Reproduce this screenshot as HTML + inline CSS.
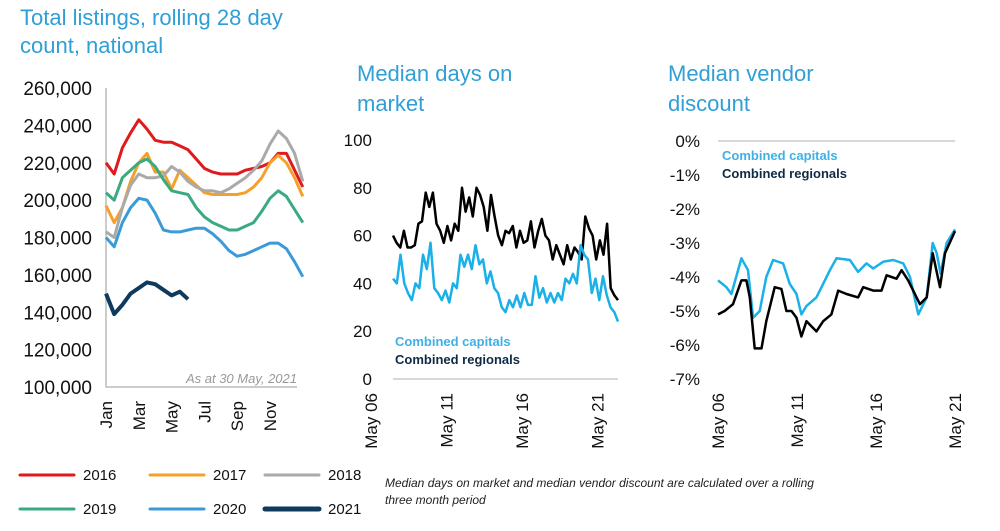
<!DOCTYPE html>
<html><head><meta charset="utf-8"><style>
body{margin:0;background:#fff;width:1000px;height:531px;overflow:hidden;font-family:"Liberation Sans",sans-serif}
svg{position:absolute;left:0;top:0}
</style></head><body>
<svg id="s" width="1000" height="531" viewBox="0 0 1000 531">
<text x="20" y="25" font-size="22" fill="#2f9fd6">Total listings, rolling 28 day</text>
<text x="20" y="53" font-size="22" fill="#2f9fd6">count, national</text>
<text x="357" y="81" font-size="22" fill="#2f9fd6">Median days on</text>
<text x="357" y="111" font-size="22" fill="#2f9fd6">market</text>
<text x="668" y="81" font-size="22" fill="#2f9fd6">Median vendor</text>
<text x="668" y="111" font-size="22" fill="#2f9fd6">discount</text>
<text x="385" y="487" font-size="12" font-style="italic" fill="#222">Median days on market and median vendor discount are calculated over a rolling</text>
<text x="385" y="504" font-size="12" font-style="italic" fill="#222">three month period</text>
<g id="g1"></g><g id="g2"></g><g id="g3"></g>
</svg>
<script>
const NS="http://www.w3.org/2000/svg";
function mk(p,t,a){const e=document.createElementNS(NS,t);for(const k in a)e.setAttribute(k,a[k]);p.appendChild(e);return e;}
// ---- Chart 1 data (thousands, half-month steps) ----
const years1=["2016","2017","2018","2019","2020","2021"];
const s2016=[220,214,228,236,243,238,232,231,231,229,227,222,217,215,214,214,214,216,217,218,220,225,225,216,207];
const s2017=[197,188,196,210,220,225,215,215,206,216,212,208,204,203,203,203,203,204,207,212,220,224,220,212,202];
const s2018=[183,180,196,208,214,212,212,213,218,215,210,207,205,205,204,206,209,212,216,221,230,237,233,225,210];
const s2019=[204,200,212,216,220,222,218,211,205,204,203,196,191,188,186,184,184,186,188,194,201,205,202,195,188];
const s2020=[180,175,188,196,201,200,193,184,183,183,184,185,185,182,178,173,170,171,173,175,177,177,174,167,159];
const s2021=[150,139,144,150,153,156,155,152,149,151,147];
const ticks1=[100,120,140,160,180,200,220,240,260];
const months1=["Jan","Mar","May","Jul","Sep","Nov"];
const cols1=["#e0191c","#f5a02a","#aaaaaa","#3aaa80","#3b9ad8","#0f3a5e"];
const series1=[s2016,s2017,s2018,s2019,s2020,s2021];
const g1=document.getElementById('g1');
const x1=m=>106+m*16.4, y1=v=>387-(v-100)*(299/160);
ticks1.forEach(t=>{const e=mk(g1,'text',{x:92,y:y1(t)+7,'font-size':19,'text-anchor':'end',fill:'#111'});e.textContent=t+',000';

});
mk(g1,'path',{d:`M106 88V387H297`,stroke:'#bbb',fill:'none','stroke-width':1.5});
months1.forEach((m,i)=>{const x=x1(i*2)+6,e=mk(g1,'text',{x:0,y:0,'font-size':17,'text-anchor':'end',transform:`translate(${x},401) rotate(-90)`,fill:'#111'});e.textContent=m;

});
{const e=mk(g1,'text',{x:297,y:383,'font-size':13,'font-style':'italic','text-anchor':'end',fill:'#999'});e.textContent='As at 30 May, 2021';

}
series1.forEach((s,k)=>{const d=s.map((v,i)=>(i?'L':'M')+x1(i*0.5).toFixed(1)+' '+y1(v).toFixed(1)).join('');
const p=mk(g1,'path',{d,stroke:cols1[k],fill:'none','stroke-width':k==5?4:3,'stroke-linejoin':'round'});


const lx=[20,150,265][k%3],ly=k<3?475:509;
const l=mk(g1,'line',{x1:lx,y1:ly,x2:lx+54,y2:ly,stroke:cols1[k],'stroke-width':k==5?5:3,'stroke-linecap':'round'});


const t=mk(g1,'text',{x:lx+63,y:ly+5,'font-size':15,fill:'#111'});t.textContent=years1[k];

});
// ---- Chart 2 data ----
const ticks2=[0,20,40,60,80,100];
const xlabels=["May 06","May 11","May 16","May 21"];
const regionals=[60,57,55,62,55,55,56,65,66,78,72,78,65,62,57,64,58,65,62,80,70,76,68,80,77,72,62,77,68,60,56,62,61,64,55,62,57,58,66,55,62,67,60,58,50,56,52,48,56,50,55,53,50,68,63,60,50,58,52,65,38,35,33];
const capitals=[42,40,52,40,36,33,40,38,52,46,57,38,36,33,37,32,40,38,52,47,52,46,56,48,50,40,45,38,36,30,28,33,30,35,30,36,31,31,43,34,38,32,36,32,36,33,42,40,44,40,56,52,50,36,42,33,43,35,30,28,24];
const g2=document.getElementById('g2');
const y2=v=>379-v*2.39;
ticks2.forEach(t=>{const e=mk(g2,'text',{x:372,y:y2(t)+6,'font-size':17,'text-anchor':'end',fill:'#111'});e.textContent=t;

});
mk(g2,'line',{x1:393,y1:379,x2:618,y2:379,stroke:'#ccc','stroke-width':1.5});
xlabels.forEach((l,i)=>{const x=377+i*75.5,e=mk(g2,'text',{x:0,y:0,'font-size':17,'text-anchor':'end',transform:`translate(${x},393) rotate(-90)`,fill:'#111'});e.textContent=l;

});
[[regionals,'#000','line-regionals'],[capitals,'#1ab0e8','line-capitals']].forEach(([s,c,n])=>{const d=s.map((v,i)=>(i?'L':'M')+(393+i*225/(s.length-1)).toFixed(1)+' '+y2(v).toFixed(1)).join('');
const p=mk(g2,'path',{d,stroke:c,fill:'none','stroke-width':2.5,'stroke-linejoin':'round'});

});
// ---- Chart 3 data ----
const ticks3=[0,-1,-2,-3,-4,-5,-6,-7];
const capYears=[2006.4,2006.93,2007.25,2007.88,2008.3,2008.62,2009.04,2009.46,2009.89,2010.52,2010.94,2011.37,2011.68,2012.0,2012.63,2013.06,2013.48,2013.9,2014.75,2015.27,2015.8,2016.22,2016.86,2017.49,2018.13,2018.55,2019.08,2019.61,2019.99,2020.24,2020.49,2020.87,2021.4];
const capVals=[-4.1,-4.3,-4.5,-3.45,-3.8,-5.2,-5.0,-4.0,-3.5,-3.6,-4.2,-4.5,-5.1,-4.85,-4.6,-4.2,-3.8,-3.45,-3.5,-3.85,-3.6,-3.75,-3.55,-3.5,-3.6,-4.0,-5.1,-4.6,-3.0,-3.3,-3.9,-3.0,-2.6];
const regYears=[2006.4,2006.82,2007.35,2007.88,2008.2,2008.41,2008.72,2009.15,2009.46,2009.99,2010.41,2010.73,2011.05,2011.37,2011.68,2012.0,2012.63,2013.06,2013.58,2014.01,2014.53,2015.27,2015.59,2016.22,2016.75,2017.07,2017.7,2018.02,2018.44,2019.18,2019.61,2019.99,2020.45,2020.77,2021.4];
const regVals=[-5.1,-5.0,-4.8,-4.1,-4.1,-4.6,-6.1,-6.1,-5.3,-4.3,-4.35,-5.0,-5.0,-5.2,-5.75,-5.3,-5.6,-5.3,-5.1,-4.4,-4.5,-4.6,-4.3,-4.4,-4.4,-3.95,-4.05,-3.8,-4.1,-4.8,-4.6,-3.3,-4.3,-3.3,-2.65];
const g3=document.getElementById('g3');
const x3=yr=>718+(yr-2006.4)*237/15, y3=v=>141-v*34;
ticks3.forEach(t=>{const e=mk(g3,'text',{x:700,y:y3(t)+6,'font-size':17,'text-anchor':'end',fill:'#111'});e.textContent=t+'%';

});
mk(g3,'line',{x1:718,y1:141,x2:955,y2:141,stroke:'#ccc','stroke-width':1.5});
xlabels.forEach((l,i)=>{const x=x3(2006.4+i*5)+6,e=mk(g3,'text',{x:0,y:0,'font-size':17,'text-anchor':'end',transform:`translate(${x},393) rotate(-90)`,fill:'#111'});e.textContent=l;

});
[[capYears,capVals,'#1ab0e8','line-capitals'],[regYears,regVals,'#000','line-regionals']].forEach(([X,V,c,n])=>{const d=V.map((v,i)=>(i?'L':'M')+x3(X[i]).toFixed(1)+' '+y3(v).toFixed(1)).join('');
const p=mk(g3,'path',{d,stroke:c,fill:'none','stroke-width':2.5,'stroke-linejoin':'round'});

});
// legends
[[g2,395,346],[g3,722,160]].forEach(([g,x,y])=>{
const a=mk(g,'text',{x,y,'font-size':13,'font-weight':'bold',fill:'#3fb0e6'});a.textContent='Combined capitals';


const b=mk(g,'text',{x,y:y+18,'font-size':13,'font-weight':'bold',fill:'#0f2a45'});b.textContent='Combined regionals';

});
</script>
</body></html>
